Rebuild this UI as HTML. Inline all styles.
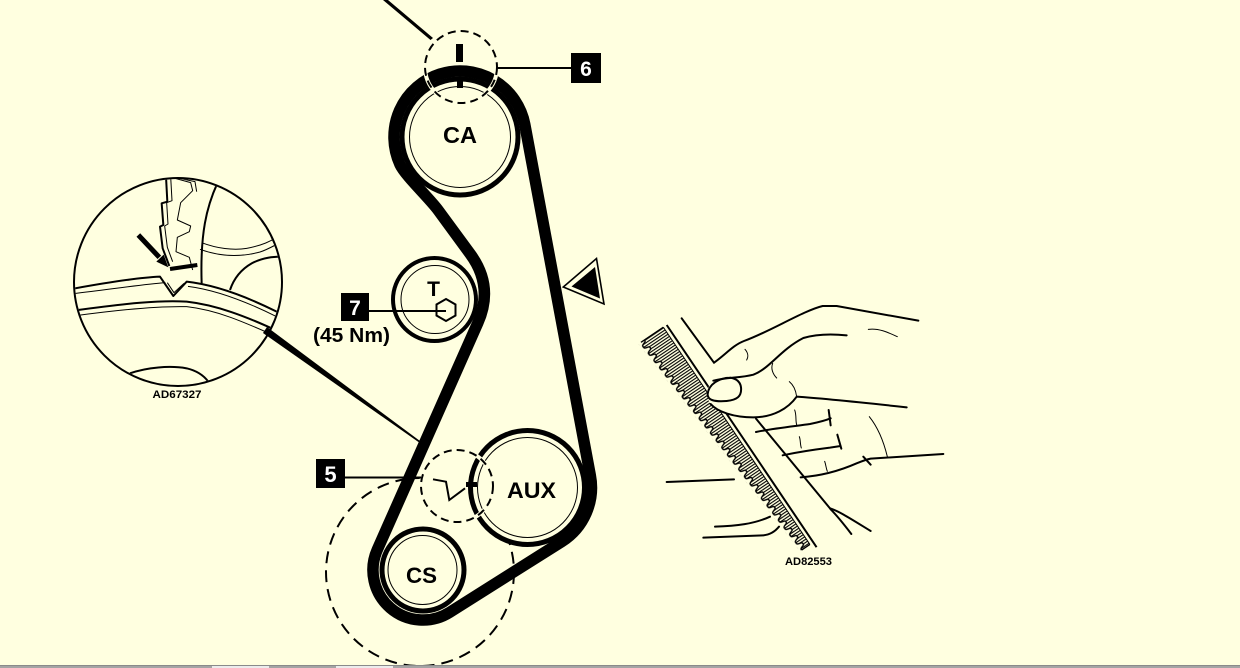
<!DOCTYPE html>
<html><head><meta charset="utf-8"><style>
html,body{margin:0;padding:0;background:#FFFFE0;}
svg{display:block}
text{font-family:"Liberation Sans",Arial,sans-serif;font-weight:bold;}
</style></head><body>
<svg width="1240" height="668" viewBox="0 0 1240 668" xmlns="http://www.w3.org/2000/svg">
<defs>
 <pattern id="hatch" patternUnits="userSpaceOnUse" x="0" y="0" width="2.6" height="10">
   <rect x="0" y="0" width="1.1" height="10" fill="#000"/>
 </pattern>
 <pattern id="teeth" patternUnits="userSpaceOnUse" x="0" y="-6" width="9.2" height="8">
   <path d="M0,1 L1.5,1 C2.8,1 2.6,6 4.2,6 L6.2,6 C7.8,6 7.8,1 9.2,1 L9.2,8 L0,8 Z" fill="#FFFFE0"/>
   <path d="M0,1 L1.5,1 C2.8,1 2.6,6 4.2,6 L6.2,6 C7.8,6 7.8,1 9.2,1" fill="none" stroke="#000" stroke-width="1.4"/>
 </pattern>
 <clipPath id="insetclip"><circle cx="178" cy="282" r="103"/></clipPath>
</defs>
<rect width="1240" height="668" fill="#FFFFE0"/>

<!-- ============ INSET AD67327 ============ -->
<g clip-path="url(#insetclip)">
 <g transform="translate(60,160) scale(0.33333)" fill="none" stroke="#000" stroke-linejoin="round">
  <path d="M40,386 C150,366 250,352 300,350 L340,408 L380,365 C470,375 560,410 650,455" stroke-width="6"/>
  <path d="M40,401 C150,388 250,373 316,368 M384,379 C470,390 560,425 650,470" stroke-width="3"/>
  <path d="M322,368 L342,398 L372,370" stroke-width="3"/>
  <path d="M40,452 C200,430 300,420 380,425 C470,435 560,470 650,512" stroke-width="6"/>
  <path d="M40,468 C200,446 300,438 380,440 C470,450 550,485 650,530" stroke-width="3"/>
  <path d="M210,640 C260,622 330,616 380,625 C410,632 430,645 445,665" stroke-width="6"/>
  <path d="M472,70 C440,140 420,220 425,370" stroke-width="6"/>
  <path d="M425,248 C470,265 520,272 560,265 C600,258 630,245 650,232" stroke-width="3"/>
  <path d="M420,268 C480,290 540,292 600,276 C620,270 640,258 660,248" stroke-width="3"/>
  <path d="M510,390 C520,360 540,330 575,310 C610,292 640,290 670,290" stroke-width="6"/>
  <path d="M318,50 L322,125 L305,130 L310,195 L300,200 L308,265 L328,318" stroke-width="6"/>
  <path d="M332,50 L336,122 L320,128 L324,192 L314,198 L322,262 L338,305" stroke-width="3"/>
  <path d="M345,55 L392,68 L398,92 L362,128 L352,180 L392,198 L388,215 L352,232 L348,275 L388,292 L398,330" stroke-width="3"/>
  <path d="M358,55 L405,65 L410,95" stroke-width="3"/>
  <path d="M330,327 L412,315" stroke-width="12"/>
  <path d="M235,225 L298,292" stroke-width="15"/>
  <polygon points="325,322 289,305 311,284" fill="#000" stroke="none"/>
 </g>
</g>
<circle cx="178" cy="282" r="104" fill="none" stroke="#000" stroke-width="2"/>
<polygon points="263,333 267,327 420.5,441.4 419.5,442.8" fill="#000"/>
<text x="177" y="398" font-size="11" text-anchor="middle" textLength="49" lengthAdjust="spacingAndGlyphs">AD67327</text>

<!-- top leader -->
<polygon points="383,0 388,0 433,38 430.5,40" fill="#000"/>

<!-- ============ MAIN BELT DIAGRAM ============ -->
<circle cx="420" cy="572" r="94" fill="none" stroke="#000" stroke-width="2" stroke-dasharray="12 7"/>
<circle cx="457" cy="486" r="36" fill="#FFFFE0"/>

<!-- pulleys -->
<circle cx="460" cy="137" r="58" fill="#FFFFE0" stroke="#000" stroke-width="5"/>
<circle cx="460" cy="137" r="50.5" fill="none" stroke="#000" stroke-width="1"/>
<circle cx="434.5" cy="299.5" r="41.5" fill="#FFFFE0" stroke="#000" stroke-width="4"/>
<circle cx="435" cy="299.5" r="34" fill="none" stroke="#000" stroke-width="1"/>
<circle cx="527.5" cy="487.5" r="57" fill="#FFFFE0" stroke="#000" stroke-width="5"/>
<circle cx="527.5" cy="487.5" r="50" fill="none" stroke="#000" stroke-width="1"/>
<circle cx="423" cy="570" r="41" fill="#FFFFE0" stroke="#000" stroke-width="5"/>
<circle cx="422.5" cy="570" r="34.5" fill="none" stroke="#000" stroke-width="1"/>

<!-- belt -->
<path d="M524.8,124.5 A66,66 0 1 0 400,164.5 C405,175.4 429.1,197.9 438,210 L470.4,254.2 Q494,286.4 477.8,322.9 L377.3,549.7 A50,50 0 0 0 449.7,612.3 L561.7,541.6 A64,64 0 0 0 590.3,475.4 Z" fill="none" stroke="#000" stroke-width="11.5" stroke-linejoin="round"/>

<!-- small dashed circles -->
<circle cx="461" cy="67" r="36" fill="none" stroke="#FFFFE0" stroke-width="4"/>
<circle cx="461" cy="67" r="36" fill="none" stroke="#000" stroke-width="2" stroke-dasharray="8 5"/>
<circle cx="457" cy="486" r="36" fill="none" stroke="#FFFFE0" stroke-width="4"/>
<circle cx="457" cy="486" r="36" fill="none" stroke="#000" stroke-width="2" stroke-dasharray="8 5"/>

<!-- CA timing marks -->
<rect x="456" y="44" width="7" height="18" fill="#000"/>
<rect x="457" y="78" width="6" height="10" fill="#000"/>

<!-- crank notch -->
<polyline points="433,479.3 446,481.7 449.3,500 465,488.3" fill="none" stroke="#000" stroke-width="2"/>
<rect x="466" y="482" width="11" height="5" fill="#000"/>

<!-- labels -->
<text x="460" y="143" font-size="23" text-anchor="middle" textLength="34" lengthAdjust="spacingAndGlyphs">CA</text>
<text x="531.5" y="498" font-size="22" text-anchor="middle" textLength="49" lengthAdjust="spacingAndGlyphs">AUX</text>
<text x="421.5" y="583" font-size="22" text-anchor="middle" textLength="31" lengthAdjust="spacingAndGlyphs">CS</text>
<text x="433.5" y="296" font-size="21" text-anchor="middle">T</text>

<!-- hex nut -->
<polygon points="446,299 455.5,304.5 455.5,315.5 446,321 436.5,315.5 436.5,304.5" fill="none" stroke="#000" stroke-width="2"/>

<!-- callouts -->
<line x1="497" y1="68" x2="571" y2="68" stroke="#000" stroke-width="2"/>
<rect x="571" y="53" width="30" height="30" fill="#000"/>
<text x="586" y="76" font-size="21" text-anchor="middle" fill="#fff">6</text>

<line x1="369" y1="311" x2="446" y2="311" stroke="#000" stroke-width="2"/>
<rect x="341" y="293" width="28" height="28" fill="#000"/>
<text x="355" y="315" font-size="21" text-anchor="middle" fill="#fff">7</text>
<text x="351.5" y="342" font-size="20" text-anchor="middle" textLength="77" lengthAdjust="spacingAndGlyphs">(45 Nm)</text>

<line x1="345" y1="477.5" x2="421" y2="477.5" stroke="#000" stroke-width="2"/>
<rect x="316" y="459" width="29" height="29" fill="#000"/>
<text x="330.5" y="482" font-size="22" text-anchor="middle" fill="#fff">5</text>

<!-- direction arrow -->
<polygon points="563.3,287 596.5,258.5 604,304" fill="none" stroke="#000" stroke-width="1.6"/>
<polygon points="571.5,286.5 595,267 600,298.5" fill="#000"/>

<!-- ============ HAND / BELT ILLUSTRATION ============ -->
<g transform="translate(666.7,325) rotate(56)">
  <polygon points="0,4 262,4 262,14 0,32" fill="url(#hatch)"/>
  <g transform="translate(0,32) rotate(-3.93)">
    <rect x="0" y="-6" width="262.6" height="8" fill="url(#teeth)"/>
  </g>
  <line x1="0" y1="0" x2="268" y2="0" stroke="#000" stroke-width="2"/>
  <line x1="0" y1="4" x2="0" y2="31" stroke="#000" stroke-width="1.4"/>
  <line x1="0" y1="4" x2="262" y2="4" stroke="#000" stroke-width="1"/>
  <line x1="262" y1="4" x2="262" y2="14" stroke="#000" stroke-width="1.4"/>
</g>
<g transform="translate(630,300) scale(0.33333)" fill="none" stroke="#000" stroke-linejoin="round" stroke-linecap="round">
  <path d="M155,55 L252,188 M378,356 L600,625" stroke-width="6"/>
  <path d="M250,242 C290,232 330,234 370,224 L420,260 L500,290 C475,325 430,352 370,352 C310,352 262,335 242,312 C226,292 230,256 250,242 Z" fill="#FFFFE0" stroke="none"/>
  <path d="M252,188 C285,165 310,135 342,123 C420,95 520,32 578,18 L620,18 L865,62" stroke-width="6"/>
  <path d="M250,242 C290,232 330,234 370,224 C420,205 450,150 520,114 C560,102 610,102 650,106" stroke-width="6"/>
  <path d="M300,233 C268,234 236,252 233,282 C232,300 252,306 290,303 C320,300 336,290 333,262 C331,246 320,236 300,233" stroke-width="6"/>
  <path d="M242,312 C262,335 310,352 370,352 C430,352 475,325 500,290 C560,294 700,308 830,322" stroke-width="6"/>
  <path d="M378,396 C430,385 500,378 540,372 C570,366 590,360 602,355 M596,330 L602,376" stroke-width="6"/>
  <path d="M458,466 C510,455 560,448 600,443 L632,438 M622,404 L634,446" stroke-width="6"/>
  <path d="M512,532 C570,528 630,512 680,490 C700,482 712,478 722,476 L940,462 M700,470 L722,494" stroke-width="6"/>
  <path d="M494,330 C500,345 496,362 500,374 M508,410 C512,420 510,432 514,444 M584,484 C588,495 588,505 592,514 M718,350 C742,380 760,420 772,470 M715,88 C745,84 772,96 802,110 M345,148 C354,158 356,170 350,180 M428,190 C422,205 428,222 440,234 M478,245 C494,258 498,275 500,290" stroke-width="3"/>
  <path d="M110,546 L312,538 M255,680 C320,678 372,672 420,650 M220,713 L400,706 C420,704 435,695 447,680" stroke-width="6"/>
  <path d="M600,625 C628,634 660,655 722,693 M602,628 C616,642 638,668 664,702" stroke-width="6"/>
</g>
<text x="808.5" y="565" font-size="11" text-anchor="middle" textLength="47" lengthAdjust="spacingAndGlyphs">AD82553</text>

<!-- bottom bar -->
<rect x="0" y="665" width="1240" height="3" fill="#a4a4a4"/>
<rect x="0" y="665" width="1240" height="1" fill="#8a8a8a"/>
<rect x="212" y="666" width="57" height="2" fill="#ececec"/>
<rect x="336" y="666" width="57" height="2" fill="#ececec"/>
</svg>
</body></html>
